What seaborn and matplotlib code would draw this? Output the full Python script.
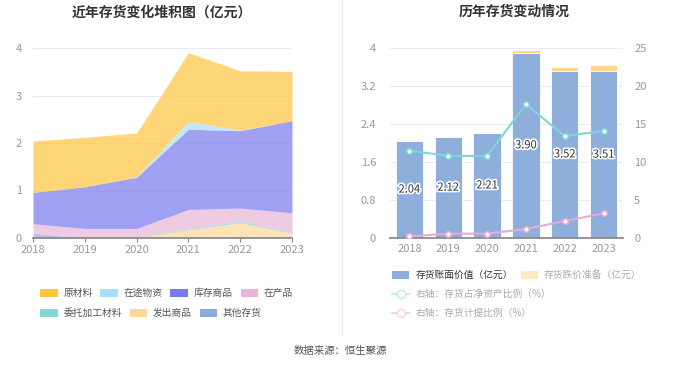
import numpy as np
import pandas as pd
import matplotlib.pyplot as plt
import seaborn as sns
from matplotlib.patches import Patch
from matplotlib.lines import Line2D
import matplotlib.patheffects as pe

sns.set_theme(style='white')
plt.rcParams['font.family'] = ['Noto Sans CJK SC', 'DejaVu Sans']
plt.rcParams['axes.unicode_minus'] = False

# ---- data ----
YEARS = ['2018', '2019', '2020', '2021', '2022', '2023']

# stacked components (亿元), bottom -> top
other_stock = [0.10, 0.00, 0.00, 0.00, 0.00, 0.00]      # 其他存货
goods_shipped = [0.00, 0.00, 0.00, 0.17, 0.32, 0.10]    # 发出商品
outsourced = [0.00, 0.00, 0.00, 0.02, 0.04, 0.02]       # 委托加工材料
wip = [0.20, 0.20, 0.20, 0.41, 0.27, 0.41]              # 在产品
finished_goods = [0.66, 0.88, 1.08, 1.69, 1.63, 1.94]   # 库存商品
in_transit = [0.00, 0.00, 0.01, 0.16, 0.01, 0.00]       # 在途物资
raw_material = [1.08, 1.04, 0.92, 1.45, 1.25, 1.04]     # 原材料

# right chart
book_value = [2.04, 2.12, 2.21, 3.90, 3.52, 3.51]       # 存货账面价值
impairment = [0.01, 0.01, 0.01, 0.06, 0.09, 0.13]       # 存货跌价准备
ratio_net_assets = [11.5, 10.8, 10.8, 17.6, 13.4, 14.1]  # 存货占净资产比例 %
ratio_impairment = [0.22, 0.57, 0.57, 1.18, 2.23, 3.24]  # 存货计提比例 %

STACK_LABELS = ['其他存货', '发出商品', '委托加工材料', '在产品', '库存商品', '在途物资', '原材料']
STACK_COLORS = ['#8caadc', '#ffd898', '#86d6d8', '#e8b4d8', '#7a7af0', '#a8e0fa', '#ffc53d']

TICK_COLOR = '#999999'
GRID_COLOR = '#e6eaf4'

fig = plt.figure(figsize=(6.8, 3.67), dpi=100)

# ---------------- left: stacked area ----------------
ax1 = fig.add_axes([33 / 680, 1 - 238 / 367, (292 - 33) / 680, 190 / 367])
xpos = np.arange(len(YEARS))
ax1.stackplot(xpos, other_stock, goods_shipped, outsourced, wip, finished_goods,
              in_transit, raw_material, colors=STACK_COLORS, alpha=0.7, linewidth=0)
ax1.set_xlim(0, 5)
ax1.set_ylim(0, 4)
ax1.set_yticks([0, 1, 2, 3, 4])
ax1.set_xticks(xpos)
ax1.set_xticklabels(YEARS)
ax1.grid(axis='y', color=GRID_COLOR, linewidth=0.8)
ax1.set_axisbelow(True)
for s in ['top', 'right', 'left']:
    ax1.spines[s].set_visible(False)
ax1.spines['bottom'].set_color('#888888')
ax1.tick_params(axis='x', colors=TICK_COLOR, labelsize=8, length=3, width=0.8, pad=2,
                direction='out', bottom=True, labelcolor=TICK_COLOR)
ax1.tick_params(axis='x', color='#888888')
ax1.tick_params(axis='y', colors=TICK_COLOR, labelsize=8, length=0, pad=8)

# ---------------- right: bars + lines ----------------
ax2 = fig.add_axes([390 / 680, 1 - 238 / 367, (623 - 390) / 680, 190 / 367])
df = pd.DataFrame({'year': YEARS, 'book': book_value, 'imp': impairment})
df['total'] = df['book'] + df['imp']
sns.barplot(data=df, x='year', y='total', color='#fdd78d', saturation=1, width=0.7,
            ax=ax2, edgecolor='white', linewidth=0.6)
sns.barplot(data=df, x='year', y='book', color='#8eaedc', saturation=1, width=0.7,
            ax=ax2, edgecolor='white', linewidth=0.6)
ax2.set_xlim(-0.5, 5.5)
ax2.set_ylim(0, 4)
ax2.set_yticks([0, 0.8, 1.6, 2.4, 3.2, 4])
ax2.set_yticklabels(['0', '0.8', '1.6', '2.4', '3.2', '4'])
ax2.set_xlabel('')
ax2.set_ylabel('')
ax2.grid(axis='y', color=GRID_COLOR, linewidth=0.8)
ax2.set_axisbelow(True)
for s in ['top', 'right', 'left']:
    ax2.spines[s].set_visible(False)
ax2.spines['bottom'].set_color('#888888')
ax2.tick_params(axis='x', colors=TICK_COLOR, labelsize=8, length=0, pad=4)
ax2.tick_params(axis='y', colors=TICK_COLOR, labelsize=8, length=0, pad=10)

for i, v in enumerate(book_value):
    ax2.text(i, v / 2, f'{v:.2f}', ha='center', va='center', fontsize=8, color='#333333',
             path_effects=[pe.withStroke(linewidth=2.5, foreground='white')])

ax3 = ax2.twinx()
sns.lineplot(x=xpos, y=ratio_net_assets, ax=ax3, color='#7fd6d6', linewidth=1.5,
             marker='o', markersize=4, markerfacecolor='white', markeredgecolor='#7fd6d6',
             markeredgewidth=1.2)
sns.lineplot(x=xpos, y=ratio_impairment, ax=ax3, color='#e8aad6', linewidth=1.5,
             marker='o', markersize=4, markerfacecolor='white', markeredgecolor='#e8aad6',
             markeredgewidth=1.2)
ax3.set_ylim(0, 25)
ax3.set_yticks([0, 5, 10, 15, 20, 25])
ax3.set_xlim(-0.5, 5.5)
for s in ['top', 'right', 'left', 'bottom']:
    ax3.spines[s].set_visible(False)
ax3.tick_params(axis='y', colors=TICK_COLOR, labelsize=8, length=0, pad=8)
ax3.grid(False)

# ---------------- titles, separator, source ----------------
fig.text(0.238, 0.967, '近年存货变化堆积图（亿元）', ha='center', va='center',
         fontsize=10, fontweight='bold', color='#333333')
fig.text(0.756, 0.967, '历年存货变动情况', ha='center', va='center',
         fontsize=10, fontweight='bold', color='#333333')
fig.add_artist(Line2D([342 / 680, 342 / 680], [1 - 335 / 367, 1.0],
                      color='#eeeeee', linewidth=0.8))
fig.text(0.5, 1 - 351 / 367, '数据来源：恒生聚源', ha='center', va='center',
         fontsize=7.5, color='#555555')

# ---------------- legends ----------------
leg_kw = dict(frameon=False, loc='center left', borderaxespad=0, borderpad=0,
              handlelength=1.8, handleheight=0.9, handletextpad=0.6,
              columnspacing=0.8, prop={'size': 7})

def patches(idx):
    return [Patch(facecolor=STACK_COLORS[i], edgecolor='none') for i in idx], \
           [STACK_LABELS[i] for i in idx]

h, l = patches([6, 5, 4, 3])
lg = fig.legend(h, l, ncol=4, bbox_to_anchor=(40 / 680, 1 - 293 / 367), **leg_kw)
for t in lg.get_texts():
    t.set_color('#555555')
h, l = patches([2, 1, 0])
lg = fig.legend(h, l, ncol=3, bbox_to_anchor=(40 / 680, 1 - 313 / 367), **leg_kw)
for t in lg.get_texts():
    t.set_color('#555555')

lg = fig.legend([Patch(facecolor='#8eaedc', edgecolor='none'),
                 Patch(facecolor='#fde8c4', edgecolor='none')],
                ['存货账面价值（亿元）', '存货跌价准备（亿元）'], ncol=2,
                bbox_to_anchor=(392 / 680, 1 - 275 / 367), **leg_kw)
lg.get_texts()[0].set_color('#333333')
lg.get_texts()[1].set_color('#aaaaaa')

line_kw = dict(frameon=False, loc='center left', borderaxespad=0, borderpad=0,
               handlelength=1.8, handletextpad=0.6, prop={'size': 7})
lg = fig.legend([Line2D([], [], color='#bfeaea', marker='o', markersize=6,
                        markerfacecolor='white', markeredgecolor='#bfeaea')],
                ['右轴：存货占净资产比例（%）'],
                bbox_to_anchor=(392 / 680, 1 - 294 / 367), **line_kw)
lg.get_texts()[0].set_color('#aaaaaa')
lg = fig.legend([Line2D([], [], color='#f3d2e8', marker='o', markersize=6,
                        markerfacecolor='white', markeredgecolor='#f3d2e8')],
                ['右轴：存货计提比例（%）'],
                bbox_to_anchor=(392 / 680, 1 - 313 / 367), **line_kw)
lg.get_texts()[0].set_color('#aaaaaa')

fig.savefig('out.png', dpi=100)
